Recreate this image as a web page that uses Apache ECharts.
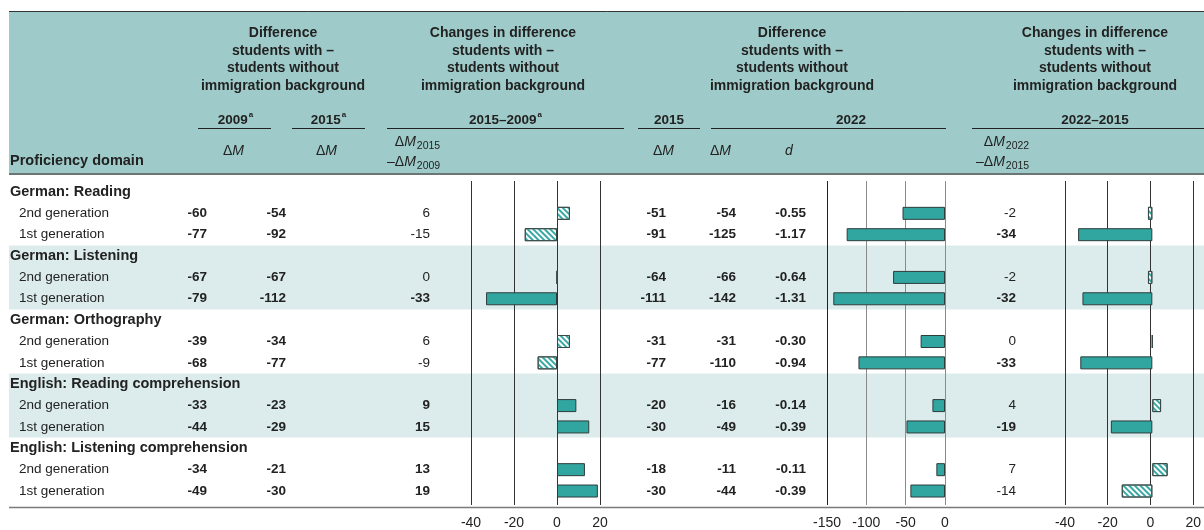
<!DOCTYPE html>
<html>
<head>
<meta charset="utf-8">
<script src="https://cdn.jsdelivr.net/npm/echarts@6/dist/echarts.min.js"></script>
<style>
html, body { margin: 0; padding: 0; background: #fff; }
#chart { width: 1204px; height: 530px; }
</style>
</head>
<body>
<div id="chart"></div>
<script>
// datos
const groups = ['German: Reading', 'German: Listening', 'German: Orthography',
    'English: Reading comprehension', 'English: Listening comprehension'];
const generations = ['2nd generation', '1st generation'];

const diff2009 = [-60, -77, -67, -79, -39, -68, -33, -44, -34, -49];
const diff2015 = [-54, -92, -67, -112, -34, -77, -23, -29, -21, -30];
const change2015 = [6, -15, 0, -33, 6, -9, 9, 15, 13, 19];
const change2015Sig = [0, 0, 0, 1, 0, 0, 1, 1, 1, 1];
const diff2015b = [-51, -91, -64, -111, -31, -77, -20, -30, -18, -30];
const diff2022 = [-54, -125, -66, -142, -31, -110, -16, -49, -11, -44];
const d2022 = ['-0.55', '-1.17', '-0.64', '-1.31', '-0.30', '-0.94', '-0.14', '-0.39', '-0.11', '-0.39'];
const change2022 = [-2, -34, -2, -32, 0, -33, 4, -19, 7, -14];
const change2022Sig = [0, 1, 0, 1, 0, 1, 0, 1, 0, 0];

const ticksChange = [-40, -20, 0, 20];
const ticksDiff = [-150, -100, -50, 0];

// layout
const FONT = '"Liberation Sans", Arial, Helvetica, sans-serif';
const ROW_TOP = 181.3;
const ROW_H = 21.36;
const TEAL = '#31a59f';
const INK = '#222';

const rows = [];
groups.forEach((g, gi) => {
    rows.push({ kind: 'group', label: g });
    generations.forEach((gen, k) => rows.push({ kind: 'gen', label: gen, idx: gi * 2 + k }));
});
const rowY = i => ROW_TOP + ROW_H * (i + 0.5);

const ctx = document.createElement('canvas').getContext('2d');
function textWidth(t, font) { ctx.font = font; return ctx.measureText(t).width; }

function txt(x, y, text, font, align, extra) {
    return Object.assign({
        type: 'text', z: 10,
        style: { x: x, y: y, text: text, font: font, fill: INK,
            align: align || 'left', textAlign: align || 'left',
            verticalAlign: 'middle', textVerticalAlign: 'middle' }
    }, extra || {});
}
function line(x1, y1, x2, y2, color, w) {
    return { type: 'line', z: 5, shape: { x1: x1, y1: y1, x2: x2, y2: y2 },
        style: { stroke: color, lineWidth: w } };
}

// "ΔM" con subindice opcional
function deltaM(x, y, sub, minus) {
    const out = [];
    const fUp = `14px ${FONT}`, fIt = `italic 14px ${FONT}`;
    let cx = x;
    let s = (minus ? '–' : '') + 'Δ';
    out.push(txt(cx, y, s, fUp));
    cx += textWidth(s, fUp);
    out.push(txt(cx, y, 'M', fIt));
    cx += textWidth('M', fIt) + 1;
    if (sub) out.push(txt(cx, y + 4, sub, `10.5px ${FONT}`));
    return out;
}
function yearLabel(cx, y, year, sup) {
    const f = `bold 13.5px ${FONT}`;
    const w = textWidth(year, f);
    const ws = sup ? textWidth(sup, `bold 8px ${FONT}`) : 0;
    const x0 = cx - (w + ws) / 2;
    const out = [txt(x0, y, year, f)];
    if (sup) out.push(txt(x0 + w + 1, y - 5, sup, `bold 8px ${FONT}`));
    return out;
}

const graphics = [];
// header
graphics.push({ type: 'rect', z: -1, shape: { x: 9, y: 11, width: 1195, height: 163 }, style: { fill: '#9ecbc9' } });
graphics.push(line(9, 11.5, 1204, 11.5, '#333', 1));
graphics.push(line(9, 174, 1204, 174, '#6a7574', 2));
graphics.push(line(9, 507.5, 1204, 507.5, '#7a7a7a', 1.5));

// bandas de grupos alternos
[1, 3].forEach(g => {
    const i0 = g * 3, i1 = g * 3 + 2;
    const y0 = rowY(i0) - ROW_H / 2, y1 = rowY(i1) + ROW_H / 2;
    graphics.push({ type: 'rect', z: -1, shape: { x: 9, y: y0, width: 1195, height: y1 - y0 }, style: { fill: '#dcecec' } });
});

const headDiff = 'Difference\nstudents with –\nstudents without\nimmigration background';
const headChange = 'Changes in difference\nstudents with –\nstudents without\nimmigration background';
[[283, headDiff], [503, headChange], [792, headDiff], [1095, headChange]].forEach(h => {
    graphics.push({ type: 'text', z: 10, style: { x: h[0], y: 24.5, text: h[1], font: `bold 14px ${FONT}`,
        fill: INK, align: 'center', textAlign: 'center', verticalAlign: 'top', textVerticalAlign: 'top', lineHeight: 17.6 } });
});

graphics.push(...yearLabel(235, 120, '2009', 'a'));
graphics.push(...yearLabel(328, 120, '2015', 'a'));
graphics.push(...yearLabel(505, 120, '2015–2009', 'a'));
graphics.push(...yearLabel(669, 120, '2015'));
graphics.push(...yearLabel(851, 120, '2022'));
graphics.push(...yearLabel(1095, 120, '2022–2015'));

[[198, 271], [292, 365], [387, 624], [638, 700], [711, 946], [972, 1204]].forEach(u => {
    graphics.push(line(u[0], 128.5, u[1], 128.5, '#222', 1));
});

graphics.push(...deltaM(223, 151));
graphics.push(...deltaM(316, 151));
graphics.push(...deltaM(653, 151));
graphics.push(...deltaM(710, 151));
graphics.push(txt(785, 151, 'd', `italic 14px ${FONT}`));
const mw = textWidth('–', `14px ${FONT}`);
graphics.push(...deltaM(387 + mw, 142, '2015'));
graphics.push(...deltaM(387, 162, '2009', true));
graphics.push(...deltaM(976 + mw, 142, '2022'));
graphics.push(...deltaM(976, 162, '2015', true));
graphics.push(txt(10, 161, 'Proficiency domain', `bold 14.5px ${FONT}`));

// filas
const columns = [
    { values: diff2009, x: 207 },
    { values: diff2015, x: 286 },
    { values: change2015, x: 430, sig: change2015Sig },
    { values: diff2015b, x: 666 },
    { values: diff2022, x: 736 },
    { values: d2022, x: 806 },
    { values: change2022, x: 1016, sig: change2022Sig }
];
rows.forEach((r, i) => {
    const y = rowY(i);
    if (r.kind === 'group') {
        graphics.push(txt(10, y, r.label, `bold 14.5px ${FONT}`));
        return;
    }
    graphics.push(txt(19, y, r.label, `13.5px ${FONT}`));
    columns.forEach(c => {
        const bold = !c.sig || c.sig[r.idx];
        graphics.push(txt(c.x, y, String(c.values[r.idx]), `${bold ? 'bold ' : ''}13.5px ${FONT}`, 'right'));
    });
});

// barras
const solidStyle = { color: TEAL, borderColor: '#2d3d3c', borderWidth: 1 };
const hatchStyle = {
    color: '#fff', borderColor: '#3a4847', borderWidth: 1,
    decal: { symbol: 'rect', symbolSize: 1, color: '#3aa9a4', dashArrayX: [1, 0], dashArrayY: [2, 2], rotation: Math.PI / 4 }
};
function barData(values, sig) {
    return rows.map(r => {
        if (r.kind === 'group') return '-';
        const v = values[r.idx];
        return { value: v, itemStyle: (!sig || sig[r.idx]) ? solidStyle : hatchStyle };
    });
}
const rowIds = rows.map((r, i) => 'r' + i);

const panels = [
    { left: 471, width: 129, ticks: ticksChange, values: change2015, sig: change2015Sig, lineColors: ['#333'] },
    { left: 827, width: 118, ticks: ticksDiff, values: diff2022, sig: null, lineColors: ['#222', '#8a8a8a', '#8a8a8a', '#8a8a8a'] },
    { left: 1065, width: 131, ticks: ticksChange, values: change2022, sig: change2022Sig, lineColors: ['#333'] }
];

const grid = [], xAxis = [], yAxis = [], series = [];
panels.forEach((p, k) => {
    const min = p.ticks[0], max = p.ticks[p.ticks.length - 1], interval = p.ticks[1] - p.ticks[0];
    // grid de lineas y etiquetas
    grid.push({ left: p.left, width: p.width, top: 181, height: 326.5 });
    xAxis.push({
        type: 'value', gridIndex: 2 * k, min: min, max: max, interval: interval,
        axisLine: { show: false }, axisTick: { show: false },
        splitLine: { show: true, lineStyle: { color: p.lineColors, width: 1 } },
        axisLabel: { fontSize: 14, color: INK, fontFamily: FONT, margin: 11 }
    });
    yAxis.push({ type: 'value', gridIndex: 2 * k, show: false, min: 0, max: 1 });
    // grid de barras
    grid.push({ left: p.left, width: p.width, top: ROW_TOP, height: ROW_H * rows.length });
    xAxis.push({ type: 'value', gridIndex: 2 * k + 1, min: min, max: max, show: false });
    yAxis.push({ type: 'category', gridIndex: 2 * k + 1, data: rowIds, inverse: true, show: false });
    series.push({
        type: 'bar', xAxisIndex: 2 * k + 1, yAxisIndex: 2 * k + 1,
        barWidth: 13, data: barData(p.values, p.sig), silent: true, animation: false
    });
});

const chart = echarts.init(document.getElementById('chart'), null, { renderer: 'canvas' });
chart.setOption({
    animation: false,
    backgroundColor: '#fff',
    grid: grid,
    xAxis: xAxis,
    yAxis: yAxis,
    series: series,
    graphic: { elements: graphics }
});
</script>
</body>
</html>
